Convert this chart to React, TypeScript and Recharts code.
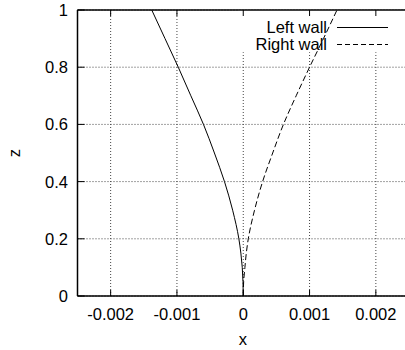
import React from 'react';
import { LineChart, Line, XAxis, YAxis, CartesianGrid, ReferenceArea } from 'recharts';

const zValues = [0, 0.05, 0.1, 0.15, 0.2, 0.3, 0.4, 0.5, 0.6, 0.7, 0.8, 0.9, 1.0];
const leftWall = [0, -0.000004, -0.000015, -0.000036, -0.000066, -0.00016, -0.000283, -0.000435, -0.0006, -0.00079, -0.00098, -0.00118, -0.00138];
const rightWall = [0, 0.000006, 0.000025, 0.000046, 0.000076, 0.00017, 0.000292, 0.000444, 0.000606, 0.000798, 0.001, 0.00121, 0.001414];

const xTicks = [-0.002, -0.001, 0, 0.001, 0.002];
const yTicks = [0, 0.2, 0.4, 0.6, 0.8, 1];

const seriesNames = ['Left wall', 'Right wall'];
const seriesDash = ['', '5 3'];

const data = zValues.map((z, i) => ({ z, left: leftWall[i], right: rightWall[i] }));

const FONT = '"Liberation Sans", Arial, Helvetica, sans-serif';
const FS = 16.5;

const BottomTick = (props: any) => {
  const { x, y, payload } = props;
  return (
    <g>
      <line x1={x} x2={x} y1={y} y2={y - 6} stroke="#000" strokeWidth={1} />
      <text x={x} y={y + 24} textAnchor="middle" fontFamily={FONT} fontSize={FS} fill="#000">
        {String(payload.value)}
      </text>
    </g>
  );
};

const TopTick = (props: any) => {
  const { x, y } = props;
  return <line x1={x} x2={x} y1={y} y2={y + 6} stroke="#000" strokeWidth={1} />;
};

const LeftTick = (props: any) => {
  const { x, y, payload } = props;
  return (
    <g>
      <line x1={x} x2={x + 7} y1={y} y2={y} stroke="#000" strokeWidth={1} />
      <text x={x - 9.5} y={y + 6} textAnchor="end" fontFamily={FONT} fontSize={FS} fill="#000">
        {String(payload.value)}
      </text>
    </g>
  );
};

const LegendOverlay = () => (
  <svg width={160} height={40} style={{ position: 'absolute', left: 250, top: 15, display: 'block', overflow: 'visible' }}>
    {seriesNames.map((name, i) => (
      <g key={name}>
        <text x={77} y={18 + i * 17} textAnchor="end" fontFamily={FONT} fontSize={FS} fill="#000">
          {name}
        </text>
        <line
          x1={87}
          x2={138}
          y1={12.5 + i * 17}
          y2={12.5 + i * 17}
          stroke="#000"
          strokeWidth={1}
          strokeDasharray={seriesDash[i] || undefined}
        />
      </g>
    ))}
  </svg>
);

export default function App() {
  return (
    <div style={{ position: 'absolute', left: 0, top: 0, width: 405, height: 350, overflow: 'hidden', background: '#fff' }}>
      <LineChart
        width={410}
        height={350}
        data={data}
        layout="vertical"
        margin={{ top: 0, right: 1, bottom: 0, left: 0.5 }}
      >
        <CartesianGrid
          stroke="#444"
          strokeDasharray="1 2"
          horizontalValues={yTicks}
          verticalValues={xTicks}
        />
        <ReferenceArea x1={-0.00008} x2={0.0025} y1={0.852} y2={1} fill="#fff" fillOpacity={1} stroke="none" ifOverflow="hidden" />
        <XAxis
          type="number"
          dataKey="left"
          domain={[-0.0025, 0.0025]}
          ticks={xTicks}
          allowDataOverflow
          height={54}
          tickSize={0}
          tickMargin={0}
          tick={<BottomTick />}
          axisLine={{ stroke: '#000', strokeWidth: 1.5 }}
          tickLine={false}
          label={(p: any) => {
            const vb = p.viewBox;
            return (
              <text x={vb.x + vb.width / 2 - 0.5} y={345} textAnchor="middle" fontFamily={FONT} fontSize={FS} fill="#000">
                x
              </text>
            );
          }}
        />
        <XAxis
          xAxisId="top"
          orientation="top"
          type="number"
          domain={[-0.0025, 0.0025]}
          ticks={xTicks}
          allowDataOverflow
          height={10}
          tickSize={0}
          tickMargin={0}
          tick={<TopTick />}
          axisLine={{ stroke: '#000', strokeWidth: 1.5 }}
          tickLine={false}
        />
        <YAxis
          type="number"
          dataKey="z"
          domain={[0, 1]}
          ticks={yTicks}
          reversed
          width={77}
          tickSize={0}
          tickMargin={0}
          tick={<LeftTick />}
          axisLine={{ stroke: '#000', strokeWidth: 1.5 }}
          tickLine={false}
          label={(p: any) => {
            const vb = p.viewBox;
            const cy = vb.y + vb.height / 2;
            return (
              <text transform={`translate(19.5,${cy}) rotate(-90)`} textAnchor="middle" fontFamily={FONT} fontSize={FS} fill="#000">
                z
              </text>
            );
          }}
        />
        <Line
          dataKey="left"
          name={seriesNames[0]}
          type="monotone"
          stroke="#000"
          strokeWidth={1}
          dot={false}
          isAnimationActive={false}
        />
        <Line
          dataKey="right"
          name={seriesNames[1]}
          type="monotone"
          stroke="#000"
          strokeWidth={1}
          strokeDasharray="6 3"
          dot={false}
          isAnimationActive={false}
        />
      </LineChart>
      <LegendOverlay />
    </div>
  );
}
